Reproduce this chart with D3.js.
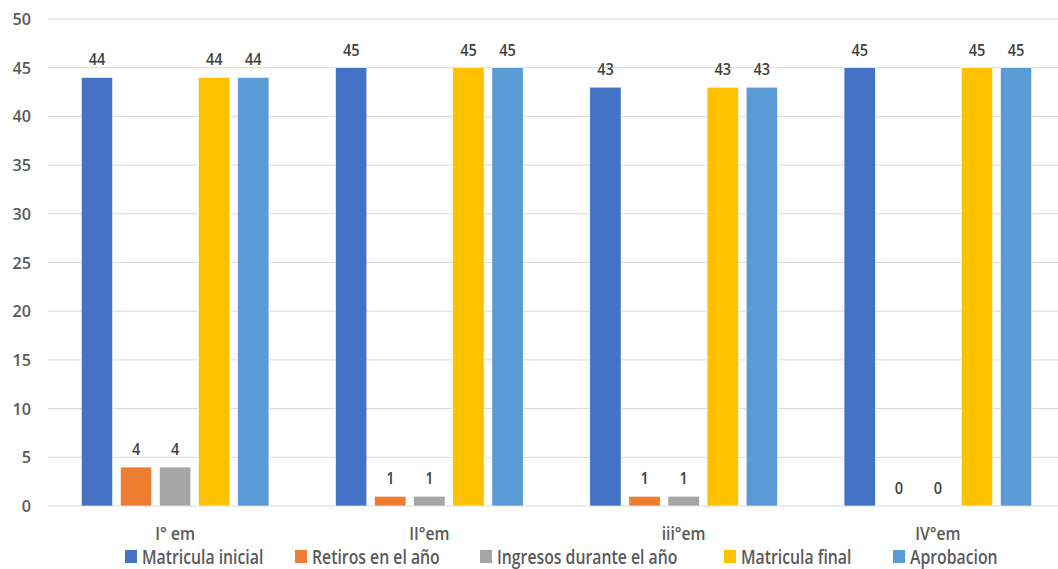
<!DOCTYPE html>
<html><head><meta charset="utf-8">
<script src="https://cdn.jsdelivr.net/npm/d3@7"></script>
<style>body{margin:0;background:#fff}svg{display:block}text{font-family:"Open Sans",sans-serif;font-weight:600}</style>
</head><body><svg id="c" width="1058" height="569"></svg>
<script>
const categories = ["I° em", "II°em", "iii°em", "IV°em"];
const seriesNames = ["Matricula inicial", "Retiros en el año", "Ingresos durante el año", "Matricula final", "Aprobacion"];
const matriculaInicial = [44, 45, 43, 45];
const retiros = [4, 1, 1, 0];
const ingresos = [4, 1, 1, 0];
const matriculaFinal = [44, 45, 43, 45];
const aprobacion = [44, 45, 43, 45];
const yTicks = [0, 5, 10, 15, 20, 25, 30, 35, 40, 45, 50];
const colors = ["#4472C4", "#ED7D31", "#A5A5A5", "#FFC000", "#5B9BD5"];
const seriesValues = [matriculaInicial, retiros, ingresos, matriculaFinal, aprobacion];

const svg = d3.select("#c");
const x0 = d3.scaleBand().domain(categories).range([48, 1065]).paddingInner(0.262).paddingOuter(0.131);
const x1 = d3.scaleBand().domain(seriesNames).range([0, x0.bandwidth()]).paddingInner(0.2).paddingOuter(0);
const y = d3.scaleLinear().domain([0, 50]).range([506, 19]);

function sText(parent, x, yy, str, size, sx, anchor, fill, weight) {
  return parent.append("text")
    .attr("transform", `translate(${x},${yy}) scale(${sx},1)`)
    .attr("text-anchor", anchor).attr("font-size", size)
    .attr("font-weight", weight || 600).attr("fill", fill).text(str);
}

svg.append("g").selectAll("line").data(yTicks).join("line")
  .attr("x1", 48).attr("x2", 1058).attr("y1", d => y(d)).attr("y2", d => y(d))
  .attr("stroke", "#d9d9d9").attr("stroke-width", 1);

const yAxisG = svg.append("g");
yTicks.forEach(t => sText(yAxisG, 31, y(t) + 6, t, 17, 0.95, "end", "#595959"));

const groups = svg.append("g").selectAll("g").data(categories).join("g")
  .attr("transform", d => `translate(${x0(d)},0)`);

groups.each(function(cat, ci) {
  const g = d3.select(this);
  seriesNames.forEach((s, si) => {
    const v = seriesValues[si][ci];
    if (v > 0) {
      g.append("rect").attr("x", x1(s)).attr("width", x1.bandwidth())
        .attr("y", y(v)).attr("height", y(0) - y(v)).attr("fill", colors[si])
        .attr("stroke", "#fff").attr("stroke-width", 0.6);
    }
    sText(g, x1(s) + x1.bandwidth() / 2, y(v) - 12, v, 16.5, 0.88, "middle", "#404040", 700);
  });
});

const catG = svg.append("g");
categories.forEach(c => sText(catG, x0(c) + x0.bandwidth() / 2, 539.5, c, 18.5, 0.85, "middle", "#595959"));

const legendX = [125, 295, 480, 724, 893];
const lg = svg.append("g");
seriesNames.forEach((s, i) => {
  lg.append("rect").attr("x", legendX[i]).attr("y", 550).attr("width", 12).attr("height", 13)
    .attr("fill", colors[i]);
  sText(lg, legendX[i] + 17, 563.5, s, 19.5, 0.81, "start", "#595959");
});
</script></body></html>
